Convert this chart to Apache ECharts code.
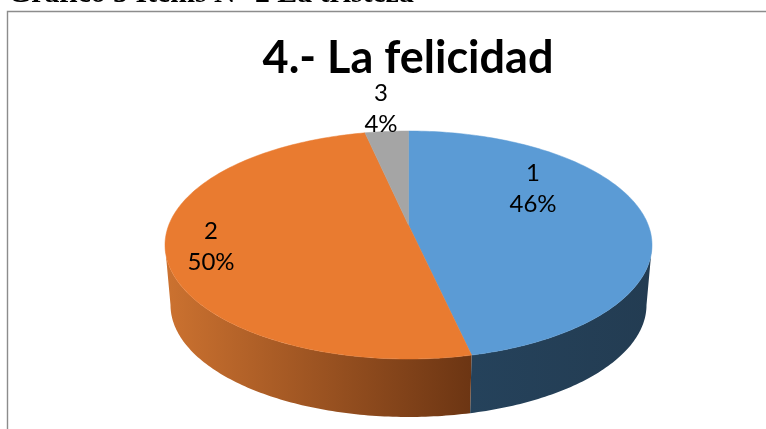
<!DOCTYPE html>
<html>
<head>
<meta charset="utf-8">
<style>
  html, body { margin: 0; padding: 0; background: #fff; }
  #chart { width: 766px; height: 429px; }
</style>
</head>
<body>
<div id="chart"></div>
<script src="https://cdn.jsdelivr.net/npm/echarts@6/dist/echarts.min.js"></script>
<script>
const categories = ['1', '2', '3'];
const percents = [46, 50, 4];

const topColors = ['#5B9BD5', '#E97B30', '#A5A5A5'];
const wallColors = [['#25425B', '#233C52'], ['#CC7230', '#6C3513'], ['#777777', '#777777']];
// label centres, hand placed like the original
const labelPos = [[533, 189], [211, 247], [381, 109]];

// upper face and base of the disc
const topFace = { cx: 408.5, cy: 245, rx: 243.5, ry: 114 };
const baseFace = { cx: 408.5, cy: 305, rx: 238, ry: 112 };
// where the slices meet, above the middle of the ellipse because of the perspective
const apex = [408.5, 225];

const total = percents.reduce((a, b) => a + b, 0);

// far side of the disc looks compressed in the perspective
function warp(deg) {
  const r = deg * Math.PI / 180;
  return deg - 14.5 * Math.sin(r) * (1.305 + Math.cos(r)) / 2;
}

function pointOn(face, deg) {
  const r = deg * Math.PI / 180;
  return [face.cx + face.rx * Math.sin(r), face.cy - face.ry * Math.cos(r)];
}

function arc(face, from, to) {
  const pts = [];
  const n = Math.max(2, Math.ceil(Math.abs(to - from)));
  for (let i = 0; i <= n; i++) {
    pts.push(pointOn(face, from + (to - from) * i / n));
  }
  return pts;
}

function renderSlice(params, api) {
  const i = params.dataIndex;
  let before = 0;
  for (let k = 0; k < i; k++) before += percents[k];
  const start = warp(before / total * 360);
  const end = warp((before + api.value(1)) / total * 360);
  const children = [];

  // side wall, only the front half can be seen
  const wallFrom = Math.max(start, 90);
  const wallTo = Math.min(end, 270);
  if (wallTo > wallFrom) {
    const upper = arc(topFace, wallFrom, wallTo);
    const lower = arc(baseFace, wallFrom, wallTo).reverse();
    const xs = upper.concat(lower).map(p => p[0]);
    const x1 = Math.min.apply(null, xs);
    const x2 = Math.max.apply(null, xs);
    const c = wallColors[i];
    children.push({
      type: 'polygon',
      z2: 1,
      shape: { points: upper.concat(lower) },
      style: {
        fill: new echarts.graphic.LinearGradient(x1, 0, x2, 0, [
          { offset: 0, color: c[0] },
          { offset: 1, color: c[1] }
        ], true)
      }
    });
  }

  // flat face
  children.push({
    type: 'polygon',
    z2: 2,
    shape: { points: [apex].concat(arc(topFace, start, end)) },
    style: { fill: topColors[i], stroke: topColors[i], lineWidth: 0.5 }
  });

  // label
  children.push({
    type: 'text',
    z2: 3,
    style: {
      text: categories[i] + '\n' + api.value(1) + '%',
      x: labelPos[i][0],
      y: labelPos[i][1],
      align: 'center',
      verticalAlign: 'middle',
      font: '24px Lato',
      lineHeight: 31,
      fill: '#000'
    }
  });

  return { type: 'group', children: children };
}

const myChart = echarts.init(document.getElementById('chart'), null, { renderer: 'canvas' });
myChart.setOption({
  animation: false,
  backgroundColor: '#fff',
  title: {
    text: '4.- La felicidad',
    left: 403,
    top: 31,
    textAlign: 'center',
    textStyle: { fontFamily: 'Lato', fontWeight: 'bold', fontSize: 45, color: '#000' }
  },
  graphic: [
    {
      type: 'text',
      left: 8,
      top: -20.5,
      style: {
        text: 'Gráfico 5 Ítems N° 2 La tristeza',
        font: 'bold 29.8px "Liberation Serif"',
        fill: '#000'
      }
    },
    {
      type: 'polyline',
      shape: { points: [[7.5, 429], [7.5, 11.5], [766, 11.5]] },
      style: { stroke: '#8C8C8C', lineWidth: 1.4, fill: null }
    }
  ],
  series: [
    {
      type: 'custom',
      coordinateSystem: 'none',
      renderItem: renderSlice,
      data: categories.map((c, i) => [c, percents[i]])
    }
  ]
});
</script>
</body>
</html>
